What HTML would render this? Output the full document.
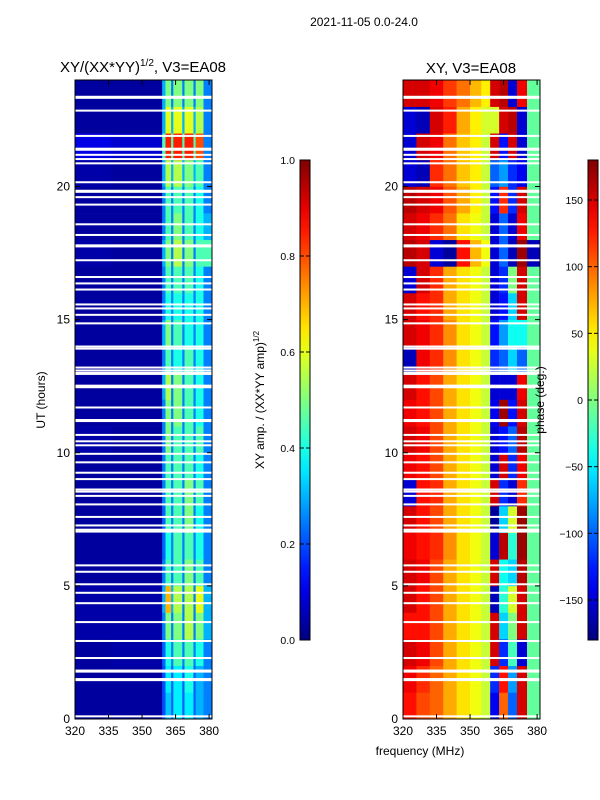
<!DOCTYPE html>
<html><head><meta charset="utf-8">
<style>
html,body{margin:0;padding:0;background:#fff;}
svg{display:block;font-family:"Liberation Sans","DejaVu Sans",sans-serif;}
</style></head>
<body>
<svg id="fig" width="600" height="800" viewBox="0 0 600 800" xmlns="http://www.w3.org/2000/svg">
<defs>
<linearGradient id="jetGrad" x1="0" y1="1" x2="0" y2="0"></linearGradient>
</defs>
<text x="364" y="26" font-size="12" text-anchor="middle">2021-11-05 0.0-24.0</text>
<g id="ampPanel"></g>
<g id="phasePanel"></g>
<g id="cbar1"></g>
<g id="cbar2"></g>
<text x="143" y="72" font-size="15" text-anchor="middle">XY/(XX*YY)<tspan font-size="10" dy="-6">1/2</tspan><tspan dy="6">, V3=EA08</tspan></text>
<text x="471" y="73" font-size="15" text-anchor="middle">XY, V3=EA08</text>
<text transform="translate(45,400) rotate(-90)" font-size="12" text-anchor="middle">UT (hours)</text>
<text x="420" y="755" font-size="12" text-anchor="middle">frequency (MHz)</text>
<text transform="translate(264,400) rotate(-90)" font-size="12" text-anchor="middle">XY amp. / (XX*YY amp)<tspan font-size="8" dy="-5">1/2</tspan></text>
<text transform="translate(544,400) rotate(-90)" font-size="12" text-anchor="middle">phase (deg.)</text>
</svg>
<script>
const NS = "http://www.w3.org/2000/svg";
// ---- data ----
const ampFreqEdges = [320, 336, 359, 360.5, 363, 364, 368, 369, 373, 374, 377.5, 382];
const ampRows = [
[.03,.03,.2,.32,.22,.36,.22,.36,.22,.3,.25],
[.03,.03,.2,.36,.22,.36,.22,.4,.22,.3,.25],
[.03,.04,.22,.4,.25,.45,.25,.45,.25,.4,.25],
[.04,.04,.25,.5,.25,.5,.25,.55,.25,.5,.3],
[.04,.04,.3,.7,.3,.55,.25,.55,.25,.6,.3],
[.03,.03,.25,.45,.25,.45,.25,.5,.25,.45,.25],
[.03,.03,.22,.4,.25,.45,.25,.45,.25,.4,.25],
[.03,.03,.22,.45,.25,.45,.25,.5,.25,.4,.25],
[.03,.03,.25,.45,.25,.45,.25,.5,.25,.45,.25],
[.03,.03,.25,.45,.25,.45,.25,.45,.25,.4,.25],
[.04,.03,.25,.5,.25,.45,.25,.45,.25,.45,.25],
[.03,.03,.25,.5,.25,.5,.25,.45,.25,.4,.25],
[.03,.03,.3,.55,.25,.5,.25,.45,.25,.4,.25],
[.03,.03,.25,.45,.25,.4,.25,.45,.25,.4,.25],
[.03,.03,.3,.5,.25,.45,.25,.4,.25,.4,.25],
[.03,.03,.25,.4,.25,.4,.25,.4,.25,.4,.25],
[.03,.03,.25,.45,.25,.45,.25,.45,.25,.4,.25],
[.04,.03,.3,.5,.25,.55,.25,.5,.25,.45,.45],
[.03,.03,.25,.45,.25,.5,.25,.45,.25,.4,.3],
[.03,.03,.25,.45,.25,.45,.25,.45,.25,.4,.25],
[.04,.03,.3,.55,.3,.55,.3,.5,.3,.45,.25],
[.1,.08,.45,.85,.45,.85,.45,.85,.45,.8,.25],
[.03,.03,.3,.6,.3,.6,.3,.6,.3,.55,.25],
[.03,.03,.3,.5,.25,.5,.25,.5,.25,.5,.25]
];
const phaseFreqEdges = [320, 326, 332, 338, 344, 350, 355, 359, 363, 367, 371, 375.5, 382];
const phaseRows = [
[130,110,100,75,55,40,25,-140,100,-100,150,-10],
[140,120,100,75,55,40,25,-120,130,-80,150,-10],
[150,140,110,75,55,40,25,150,-120,-20,-150,-10],
[130,130,110,75,55,40,25,150,-60,0,150,-10],
[150,130,110,75,55,40,25,-160,-30,30,150,-10],
[150,140,110,75,55,40,25,150,-40,-60,160,-10],
[140,130,120,85,55,40,25,-150,160,-30,170,-10],
[150,130,110,75,55,40,25,-170,-60,30,170,-10],
[-150,130,120,75,55,40,25,150,-120,-150,120,-10],
[140,130,110,75,55,40,25,-150,150,-120,140,-10],
[150,140,110,75,55,40,25,-150,-130,-100,160,-10],
[140,130,110,75,55,40,25,-140,170,-130,150,-10],
[150,130,110,75,55,40,25,-150,-150,-150,140,-10],
[-160,140,120,85,55,40,25,-120,-100,-60,-100,-10],
[150,140,120,85,55,40,25,-130,-80,-40,-40,-10],
[150,130,120,75,55,40,25,-150,-130,-60,150,-10],
[-150,150,120,75,55,40,25,-150,-120,0,150,-10],
[160,150,-150,-170,130,70,40,-150,-100,-160,170,-160],
[150,140,120,95,55,40,25,-150,-100,-150,140,-10],
[160,150,140,105,75,50,25,-130,120,-120,150,-10],
[-150,-160,120,95,65,50,25,-100,-80,-120,-140,-10],
[-150,150,140,95,65,50,25,150,-130,150,-150,-10],
[-150,-160,150,125,75,50,30,30,150,160,-150,-10],
[150,150,140,115,95,70,50,150,160,-150,140,-10]
];
const flaggedUT = [23.37,23.33,22.85,21.90,21.42,21.38,21.19,21.03,20.87,20.16,19.84,19.80,19.60,19.32,18.58,18.18,17.79,17.75,17.23,16.60,16.36,16.13,15.57,15.42,15.18,14.86,13.99,13.91,13.20,13.09,13.00,12.96,12.52,12.46,11.70,11.23,11.19,10.67,10.43,10.28,9.96,9.64,9.25,9.01,8.62,8.54,8.38,8.06,7.59,7.27,7.11,7.04,5.77,5.53,5.06,4.74,4.35,3.64,2.93,2.29,1.82,1.78,1.50,1.46,0.10];
const utTicks = [0, 5, 10, 15, 20];
const freqTicks = [320, 335, 350, 365, 380];
const ampCbTicks = [0.0, 0.2, 0.4, 0.6, 0.8, 1.0];
const phaseCbTicks = [-150, -100, -50, 0, 50, 100, 150];

// ---- helpers ----
function jet(v){
  v = Math.max(0, Math.min(1, v));
  const c = x => Math.round(255*Math.max(0, Math.min(1, x)));
  return `rgb(${c(1.5-Math.abs(4*v-3))},${c(1.5-Math.abs(4*v-2))},${c(1.5-Math.abs(4*v-1))})`;
}
const T0 = 80, T1 = 719, FMIN = 320, FMAX = 381.3, UTMAX = 24;
const yUT = ut => T1 - (ut/UTMAX)*(T1-T0);
function mk(tag, attrs, parent){
  const e = document.createElementNS(NS, tag);
  for (const k in attrs) e.setAttribute(k, attrs[k]);
  parent.appendChild(e); return e;
}
function panel(g, x0, x1, edges, rows, norm, name){
  const xF = f => x0 + (Math.min(f, FMAX)-FMIN)/(FMAX-FMIN)*(x1-x0);
  rows.forEach((row, r) => {
    row.forEach((val, c) => {
      const xa = xF(edges[c]), xb = xF(edges[c+1]);
      if (xb <= xa) return;
      const cell = mk('rect', {x: xa, y: yUT(r+1), width: xb-xa+0.3, height: yUT(r)-yUT(r+1)+0.3, fill: jet(norm(val))}, g);
      
      
    });
  });
  flaggedUT.forEach(ut => {
    const fl = mk('rect', {x: x0, y: yUT(ut)-1, width: x1-x0, height: 2, fill: '#fff'}, g);
    
    
  });
  const fr = mk('rect', {x: x0, y: T0, width: x1-x0, height: T1-T0, fill: 'none', stroke: '#000', 'stroke-width': 1}, g);
  
  
  utTicks.forEach(t => {
    const y = yUT(t);
    mk('line', {x1: x0, x2: x0+5, y1: y, y2: y, stroke: '#000'}, g);
    mk('line', {x1: x1, x2: x1-5, y1: y, y2: y, stroke: '#000'}, g);
    const lb = mk('text', {x: x0-5, y: y+4, 'font-size': 12, 'text-anchor': 'end'}, g);
    lb.textContent = t;
    
    
  });
  freqTicks.forEach(f => {
    const x = xF(f);
    mk('line', {x1: x, x2: x, y1: T1, y2: T1-5, stroke: '#000'}, g);
    mk('line', {x1: x, x2: x, y1: T0, y2: T0+5, stroke: '#000'}, g);
    const lb = mk('text', {x: x, y: T1+16, 'font-size': 12, 'text-anchor': 'middle'}, g);
    lb.textContent = f;
    
    
  });
}
panel(document.getElementById('ampPanel'), 75, 212, ampFreqEdges, ampRows, v => v, 'amplitude');
panel(document.getElementById('phasePanel'), 403, 540, phaseFreqEdges, phaseRows, v => (v+180)/360, 'phase');

const grad = document.getElementById('jetGrad');
for (let i = 0; i <= 20; i++) mk('stop', {offset: (i/20), 'stop-color': jet(i/20)}, grad);

function cbar(g, x0, lo, hi, ticks, fmt){
  const CB0 = 160, CB1 = 640, w = 10;
  const yv = v => CB1 - (v-lo)/(hi-lo)*(CB1-CB0);
  const r = mk('rect', {x: x0, y: CB0, width: w, height: CB1-CB0, fill: 'url(#jetGrad)', stroke: '#000', 'stroke-width': 1}, g);
  
  
  ticks.forEach(t => {
    const y = yv(t);
    mk('line', {x1: x0, x2: x0+4, y1: y, y2: y, stroke: '#000'}, g);
    mk('line', {x1: x0+w, x2: x0+w-4, y1: y, y2: y, stroke: '#000'}, g);
    const lb = mk('text', {x: x0-5, y: y+4, 'font-size': 10.5, 'text-anchor': 'end'}, g);
    lb.textContent = fmt(t);
    
    
  });
}
cbar(document.getElementById('cbar1'), 300, 0, 1, ampCbTicks, t => t.toFixed(1));
cbar(document.getElementById('cbar2'), 588, -180, 180, phaseCbTicks, t => (t < 0 ? '\u2212' + Math.abs(t) : '' + t));
</script>
</body></html>
